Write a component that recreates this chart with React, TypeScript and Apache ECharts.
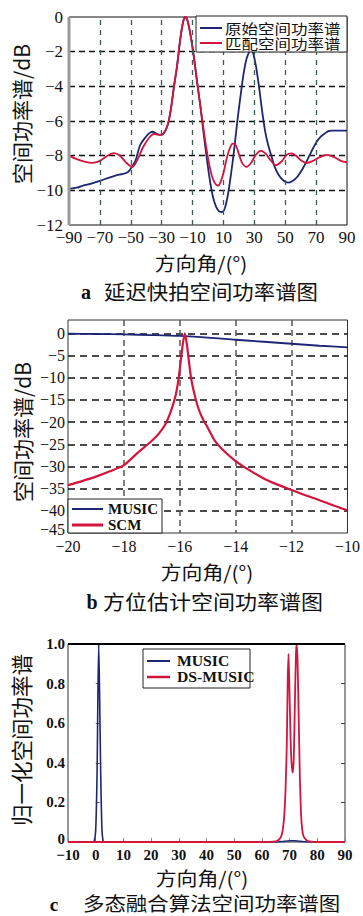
import React, { useEffect, useRef } from "react";
import * as echarts from "echarts";

// ---------- Panel a: 延迟快拍空间功率谱图 ----------
const A_VGRID = [-70, -50, -30, -10, 10, 30, 50, 70];
const A_ORIG_ANGLE = [-90, -85, -80, -75, -70, -65, -60, -55, -52, -50, -47, -44, -41, -38, -36, -33, -31, -29, -26, -24, -22, -20, -18, -16, -14.5, -13, -11, -9, -7, -5, -3, -1, 1, 3, 5, 7, 9, 11, 13, 15, 17, 19, 21, 23, 25, 27, 28, 29, 31, 33, 35, 37, 39, 41, 43, 46, 49, 52, 55, 58, 61, 64, 67, 70, 73, 76, 78, 80, 85, 90];
const A_ORIG_DB = [-9.92, -9.85, -9.7, -9.6, -9.45, -9.3, -9.15, -9.05, -8.95, -8.75, -8.3, -7.4, -7.0, -6.7, -6.62, -6.75, -6.8, -6.75, -6.2, -5.3, -4.0, -2.8, -1.3, -0.25, 0, -0.3, -1.2, -2.4, -3.8, -5.1, -6.6, -8.0, -9.3, -10.3, -10.9, -11.2, -11.25, -11.0, -10.2, -9.0, -7.6, -6.0, -4.6, -3.3, -2.4, -1.95, -1.9, -2.0, -2.8, -4.0, -5.4, -6.6, -7.4, -8.0, -8.6, -9.15, -9.45, -9.55, -9.45, -9.2, -8.8, -8.3, -7.75, -7.25, -6.9, -6.7, -6.58, -6.55, -6.55, -6.55];
const A_MATCH_ANGLE = [-90, -85, -80, -75, -70, -65, -61, -57, -53, -49, -45, -42, -38, -35, -32, -29, -26, -24, -22, -20, -18, -16, -14.5, -13, -11, -9, -7, -5, -3, -1, 1, 3, 5, 6.5, 8, 10, 12, 14, 16, 18, 20, 22, 25, 28, 31, 34, 37, 40, 44, 48, 51, 54, 57, 60, 64, 68, 72, 77, 82, 86, 90];
const A_MATCH_DB = [-8.0, -8.2, -8.35, -8.42, -8.3, -8.0, -7.85, -8.0, -8.4, -8.65, -8.1, -7.5, -6.95, -6.75, -6.8, -6.75, -6.2, -5.3, -4.0, -2.8, -1.3, -0.25, 0, -0.3, -1.2, -2.4, -3.8, -5.1, -6.4, -7.6, -8.6, -9.3, -9.65, -9.72, -9.55, -9.0, -8.2, -7.6, -7.3, -7.4, -7.9, -8.4, -8.65, -8.4, -7.95, -7.72, -7.85, -8.2, -8.55, -8.3, -7.95, -7.87, -8.0, -8.25, -8.42, -8.3, -8.1, -7.96, -8.1, -8.3, -8.38];
const A_LEGEND = ["原始空间功率谱", "匹配空间功率谱"];

// ---------- Panel b: 方位估计空间功率谱图 ----------
const B_MUSIC_ANGLE = [-20, -19, -18, -17, -16, -15, -14, -13, -12, -11, -10];
const B_MUSIC_DB = [-0.1, -0.15, -0.25, -0.4, -0.6, -0.95, -1.45, -1.9, -2.35, -2.8, -3.15];
const B_SCM_ANGLE = [-20, -19.5, -19, -18.5, -18, -17.5, -17, -16.75, -16.5, -16.3, -16.15, -16.05, -15.97, -15.9, -15.82, -15.74, -15.67, -15.59, -15.48, -15.35, -15.2, -15.0, -14.75, -14.5, -14.0, -13.5, -13.0, -12.5, -12.0, -11.5, -11.0, -10.5, -10];
const B_SCM_DB = [-34.2, -33.3, -32.3, -31.1, -29.7, -26.9, -24.2, -22.6, -20.3, -17.2, -14.0, -10.5, -6.5, -2.8, 0, -2.8, -6.5, -10.3, -13.6, -16.6, -19.0, -21.3, -24.2, -26.0, -28.8, -30.9, -32.7, -34.1, -35.3, -36.5, -37.6, -38.8, -39.9];
const B_LEGEND = ["MUSIC", "SCM"];

// ---------- Panel c: 多态融合算法空间功率谱图 ----------
const C_MUSIC_ANGLE = [-10, -1, -0.5, 0, 0.5, 0.8, 1.1, 1.4, 1.8, 2.2, 2.6, 3, 66, 68, 70, 72, 74, 76, 90];
const C_MUSIC_VAL = [0, 0, 0.005, 0.06, 0.35, 0.75, 1.0, 0.75, 0.35, 0.08, 0.01, 0, 0, 0.003, 0.006, 0.006, 0.003, 0, 0];
const C_DS_ANGLE = [-10, 60, 65, 66, 67, 67.5, 68, 68.5, 69, 69.3, 69.6, 69.9, 70.3, 70.7, 71.1, 71.5, 71.9, 72.3, 72.6, 72.9, 73.3, 73.7, 74.1, 74.5, 75, 76, 77, 80, 90];
const C_DS_VAL = [0, 0, 0.003, 0.01, 0.03, 0.06, 0.12, 0.25, 0.5, 0.8, 0.95, 0.8, 0.55, 0.4, 0.35, 0.42, 0.7, 0.95, 1.0, 0.9, 0.62, 0.33, 0.15, 0.07, 0.03, 0.01, 0.003, 0, 0];
const C_LEGEND = ["MUSIC", "DS-MUSIC"];

// ---------- Texts ----------
const Y_NAME_A = "空间功率谱/dB";
const Y_NAME_B = "空间功率谱/dB";
const Y_NAME_C = "归一化空间功率谱";
const X_NAME = "方向角/(°)";
const CAPTIONS = [
  { letter: "a", text: "延迟快拍空间功率谱图" },
  { letter: "b", text: "方位估计空间功率谱图" },
  { letter: "c", text: "多态融合算法空间功率谱图" },
];

const BLUE = "#1d2675";
const RED = "#d3143d";
const SERIF = "Liberation Serif";
const CJK = "Noto Sans CJK SC";

const zip = (xs: number[], ys: number[]) => xs.map((x, i) => [x, ys[i]]);
const fmt = (v: number) => (v < 0 ? "\u2212" + String(Math.abs(v)) : String(v));

function buildOption() {
  const labelBase = { fontFamily: SERIF, fontSize: 17, color: "#111" };
  const lineSeries = (name: string, xi: number, yi: number, data: number[][], color: string, width: number, z: number, smooth: number | boolean, extra: any = {}) => ({
    type: "line",
    name,
    xAxisIndex: xi,
    yAxisIndex: yi,
    data,
    showSymbol: false,
    symbol: "none",
    smooth,
    silent: true,
    z,
    lineStyle: { color, width },
    itemStyle: { color },
    emphasis: { disabled: true },
    ...extra,
  });

  const txt = (text: string, x: number, y: number, fontSize: number, fontFamily: string, opts: any = {}) => ({
    type: "text",
    x,
    y,
    z: 100,
    rotation: opts.rotation || 0,
    scaleX: opts.scaleX || 1,
    scaleY: opts.scaleY || 1,
    silent: true,
    style: {
      text,
      fontSize,
      fontFamily,
      fontWeight: opts.fontWeight || "normal",
      fill: "#111",
      align: opts.align || "center",
      verticalAlign: "middle",
    },
  });
  const rect = (x: number, y: number, w: number, h: number, stroke = "#222") => ({
    type: "rect",
    z: 99,
    silent: true,
    shape: { x, y, width: w, height: h },
    style: { fill: "#fff", stroke, lineWidth: 1 },
  });
  const seg = (x1: number, y1: number, x2: number, y2: number, color: string, w: number, z = 100) => ({
    type: "line",
    z,
    silent: true,
    shape: { x1, y1, x2, y2 },
    style: { stroke: color, lineWidth: w },
  });

  const graphic: any[] = [
    // panel a
    seg(69, 17, 69, 225, "#9a9a9a", 3, 50),
    txt(Y_NAME_A, 21, 114, 21, CJK, { rotation: Math.PI / 2 }),
    txt(X_NAME, 201, 263, 19, CJK, { scaleX: 1.1 }),
    txt(CAPTIONS[0].letter, 86, 292, 20, SERIF, { fontWeight: "bold" }),
    txt(CAPTIONS[0].text, 104, 291, 20, CJK, { align: "left", scaleX: 1.07 }),
    rect(196, 16, 151, 36),
    seg(200, 28, 222, 28, BLUE, 2),
    seg(200, 43, 222, 43, RED, 2),
    txt(A_LEGEND[0], 225, 28, 14, CJK, { align: "left", scaleX: 1.18 }),
    txt(A_LEGEND[1], 225, 43, 14, CJK, { align: "left", scaleX: 1.18 }),
    // panel b
    txt(Y_NAME_B, 22, 432, 21, CJK, { rotation: Math.PI / 2 }),
    txt(X_NAME, 207, 572, 19, CJK, { scaleX: 1.1 }),
    txt(CAPTIONS[1].letter, 92, 602, 20, SERIF, { fontWeight: "bold" }),
    txt(CAPTIONS[1].text, 103, 601, 20, CJK, { align: "left", scaleX: 1.1 }),
    rect(68, 499, 94, 34),
    seg(72, 509, 103, 509, BLUE, 2),
    seg(72, 525, 103, 525, RED, 3),
    txt(B_LEGEND[0], 108, 509, 15, SERIF, { align: "left", fontWeight: "bold" }),
    txt(B_LEGEND[1], 108, 525, 15, SERIF, { align: "left", fontWeight: "bold" }),
    // panel c
    seg(68, 644, 345, 644, "#000", 2, 60),
    txt(Y_NAME_C, 20, 740, 21.5, CJK, { rotation: Math.PI / 2 }),
    txt(X_NAME, 202, 878, 19, CJK, { scaleX: 1.1 }),
    txt(CAPTIONS[2].letter, 54, 904, 19, SERIF, { fontWeight: "bold" }),
    txt(CAPTIONS[2].text, 83, 902, 19.5, CJK, { align: "left", scaleX: 1.1 }),
    rect(143, 649, 107, 39),
    seg(147, 661, 170, 661, BLUE, 2),
    seg(147, 677, 170, 677, RED, 2.5),
    txt(C_LEGEND[0], 177, 661, 14, SERIF, { align: "left", fontWeight: "bold", scaleX: 1.12 }),
    txt(C_LEGEND[1], 177, 677, 14, SERIF, { align: "left", fontWeight: "bold", scaleX: 1.12 }),
  ];

  const bLabel = { fontFamily: SERIF, fontSize: 16, color: "#111" };
  const cLabel = { fontFamily: SERIF, fontSize: 15, fontWeight: "bold", color: "#111" };

  return {
    animation: false,
    backgroundColor: "#fff",
    grid: [
      { left: 69, top: 17, width: 278, height: 208, show: true, borderColor: "#111", borderWidth: 1 },
      { left: 68, top: 320, width: 289, height: 213, show: true, borderColor: "#333", borderWidth: 1 },
      { left: 68, top: 644, width: 277, height: 198, show: true, borderColor: "#333", borderWidth: 1 },
    ],
    xAxis: [
      {
        gridIndex: 0, type: "value", min: -90, max: 90, interval: 10,
        axisLine: { show: false }, axisTick: { show: false }, splitLine: { show: false },
        axisLabel: { ...labelBase, margin: 4, showMinLabel: true, showMaxLabel: true,
          formatter: (v: number) => (Math.round(v + 90) % 20 === 0 ? fmt(v) : "") },
      },
      {
        gridIndex: 1, type: "value", min: -20, max: -10, interval: 2,
        axisLine: { show: false }, axisTick: { show: false },
        splitLine: { show: true, showMinLine: false, showMaxLine: false, lineStyle: { type: [6, 4], color: "#555", width: 1.5 } },
        axisLabel: { ...bLabel, margin: 5, showMinLabel: true, showMaxLabel: true, formatter: (v: number) => fmt(v) },
      },
      {
        gridIndex: 2, type: "value", min: -10, max: 90, interval: 10,
        axisLine: { show: false },
        axisTick: { show: true, inside: true, length: 4, lineStyle: { color: "#888" } },
        splitLine: { show: false },
        axisLabel: { ...cLabel, margin: 5, showMinLabel: true, showMaxLabel: true, formatter: (v: number) => fmt(v) },
      },
    ],
    yAxis: [
      {
        gridIndex: 0, type: "value", min: -12, max: 0, interval: 2,
        axisLine: { show: false }, axisTick: { show: false },
        splitLine: { show: true, showMinLine: false, showMaxLine: false, lineStyle: { type: [6, 4], color: "#111", width: 1.3 } },
        axisLabel: { ...labelBase, margin: 6, showMinLabel: true, showMaxLabel: true, formatter: (v: number) => fmt(v) },
      },
      {
        gridIndex: 1, type: "value", min: -45, max: 3, interval: 5,
        axisLine: { show: false }, axisTick: { show: false },
        splitLine: { show: true, showMinLine: false, showMaxLine: false, lineStyle: { type: [7, 5], color: "#111", width: 1.6 } },
        axisLabel: { ...bLabel, margin: 3, showMinLabel: true, showMaxLabel: true,
          rich: { lo: { ...bLabel, padding: [0, 0, 7, 0] } },
          formatter: (v: number) => (Math.abs(v % 5) < 1e-9 ? (v === -45 ? "{lo|" + fmt(v) + "}" : fmt(v)) : "") },
      },
      {
        gridIndex: 2, type: "value", min: 0, max: 1, interval: 0.2,
        axisLine: { show: false },
        axisTick: { show: true, inside: true, length: 4, lineStyle: { color: "#666" } },
        splitLine: { show: false },
        axisLabel: { ...cLabel, margin: 3, showMinLabel: true, showMaxLabel: true,
          rich: { lo: { ...cLabel, padding: [0, 0, 7, 0] } },
          formatter: (v: number) => (v === 0 ? "{lo|0}" : v.toFixed(1)) },
      },
      {
        gridIndex: 2, type: "value", min: 0, max: 1, interval: 0.2, position: "right",
        axisLine: { show: false },
        axisTick: { show: true, inside: true, length: 4, lineStyle: { color: "#444" } },
        splitLine: { show: false },
        axisLabel: { show: false },
      },
    ],
    series: [
      lineSeries(A_LEGEND[0], 0, 0, zip(A_ORIG_ANGLE, A_ORIG_DB), BLUE, 1.8, 3, 0.3, {
        markLine: {
          silent: true, symbol: ["none", "none"], label: { show: false }, animation: false,
          emphasis: { disabled: true },
          lineStyle: { type: [5, 5], color: "#3e5c57", width: 1.3 },
          data: A_VGRID.map((v) => ({ xAxis: v })),
        },
      }),
      lineSeries(A_LEGEND[1], 0, 0, zip(A_MATCH_ANGLE, A_MATCH_DB), RED, 1.8, 4, 0.3),
      lineSeries(B_LEGEND[0], 1, 1, zip(B_MUSIC_ANGLE, B_MUSIC_DB), BLUE, 1.8, 3, 0.3),
      lineSeries(B_LEGEND[1], 1, 1, zip(B_SCM_ANGLE, B_SCM_DB), RED, 2.2, 4, 0.25),
      lineSeries("c-" + C_LEGEND[0], 2, 2, zip(C_MUSIC_ANGLE, C_MUSIC_VAL), BLUE, 1.6, 3, 0.2),
      lineSeries("c-" + C_LEGEND[1], 2, 2, zip(C_DS_ANGLE, C_DS_VAL), RED, 1.8, 4, 0.2),
    ],
    graphic,
  };
}

export default function App() {
  const ref = useRef<HTMLDivElement>(null);
  useEffect(() => {
    document.body.style.margin = "0";
    const chart = echarts.init(ref.current as HTMLDivElement, null, { renderer: "svg" });
    chart.setOption(buildOption() as any);
    return () => chart.dispose();
  }, []);
  return <div ref={ref} style={{ width: 363, height: 916 }} />;
}
